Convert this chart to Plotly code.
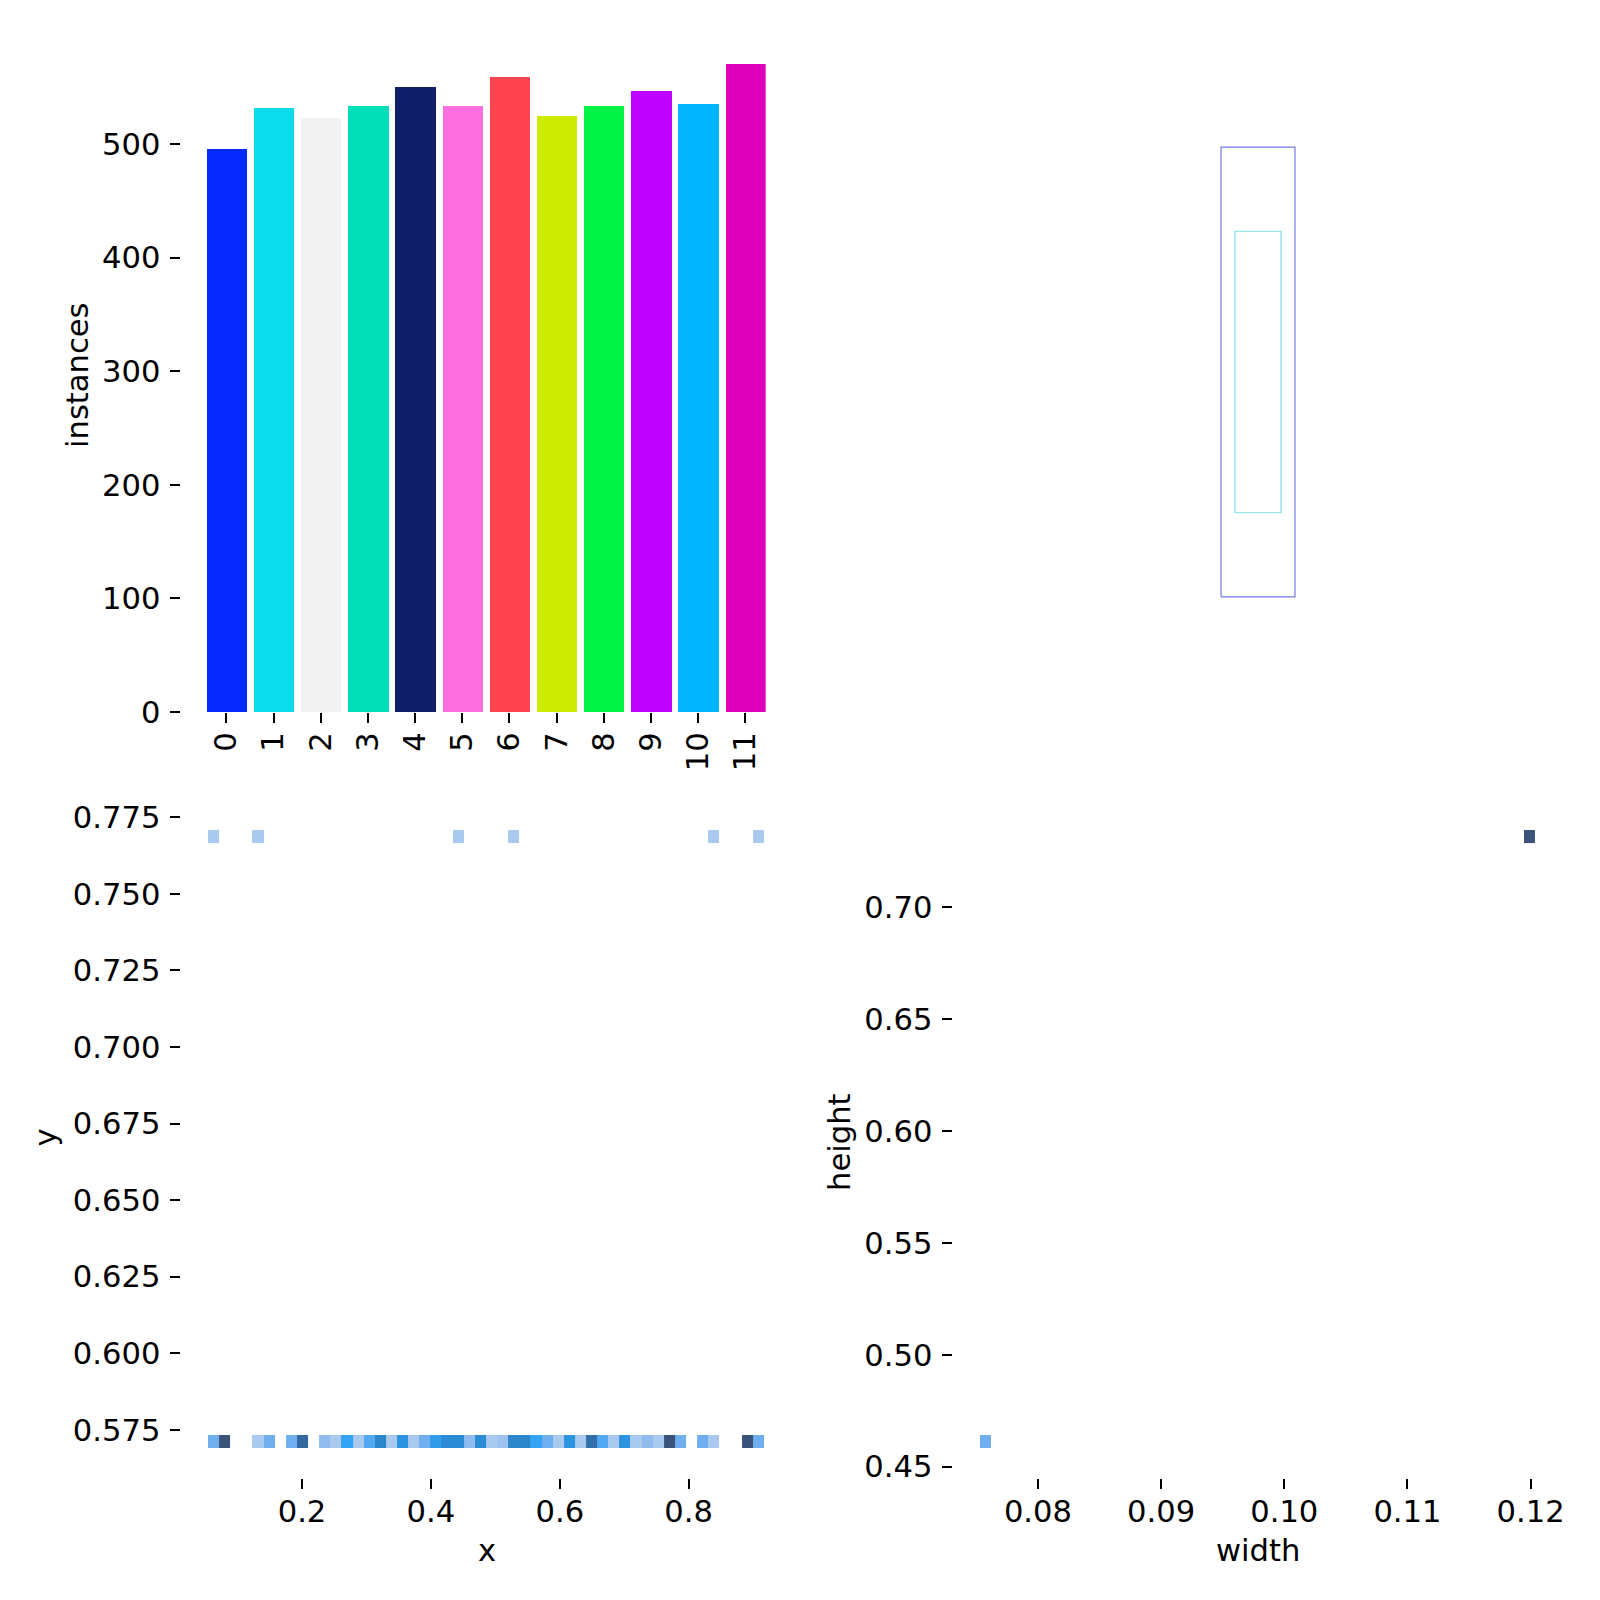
import plotly.graph_objects as go

# ---- data ----
classes = [0, 1, 2, 3, 4, 5, 6, 7, 8, 9, 10, 11]
instances = [496, 532, 523, 533, 550, 533, 559, 525, 533, 547, 535, 570]
bar_colors = ["#042AFF", "#0BDBEB", "#F3F3F3", "#00DFB7", "#111F68", "#FF6FDD",
              "#FF444F", "#CCED00", "#00F344", "#BD00FF", "#00B4FF", "#DD00BA"]

_ = None
xy_low = [4, 12, _, _, 2, 4, _, 4, 10, _,
          3, 2, 6, 2, 5, 8, 2, 7, 2, 4,
          6.5, 7.5, 7.5, 3, 7.5, 2, 2.5, 8, 8, 6,
          4, 2, 7, 2, 9.5, 5, 2, 7, 2, 3,
          2, 12, 4, _, 4, 2, _, _, 12, 4]
xy_high = [2, _, _, _, 2, _, _, _, _, _,
           _, _, _, _, _, _, _, _, _, _,
           _, _, 2, _, _, _, _, 2, _, _,
           _, _, _, _, _, _, _, _, _, _,
           _, _, _, _, _, 2, _, _, _, 2]
xy_y_edges = [0.5692, 0.57344, 0.76669, 0.77083]
xy_x0 = 0.06279   # centre of the first bin
xy_dx = 0.01725

wh_low = [4] + [_] * 49
wh_high = [_] * 49 + [12]
wh_y_edges = [0.45835, 0.46416, 0.72877, 0.73444]
wh_x0 = 0.07574   # centre of the first bin
wh_dx = 0.000902

box_width = [0.12, 0.0747]
box_height = [0.73, 0.457]
box_colors = ["#7478E0", "#7FDDE8"]

hist_levels = [0, 0.2, 0.3, 0.4, 0.6, 0.7, 0.8, 1.0, 1.2]
hist_colors = ["#C4D9F2", "#A9C9EE", "#8FBBEE", "#70AFEF", "#33A3F3",
               "#2B93E0", "#2B85C9", "#34699F", "#3B5378"]

y_ticks_bar = [0, 100, 200, 300, 400, 500]
x_ticks_xy = [0.2, 0.4, 0.6, 0.8]
y_ticks_xy = [0.575, 0.6, 0.625, 0.65, 0.675, 0.7, 0.725, 0.75, 0.775]
x_ticks_wh = [0.08, 0.09, 0.10, 0.11, 0.12]
y_ticks_wh = [0.45, 0.5, 0.55, 0.6, 0.65, 0.7]

# ---- layout helpers (pixel positions of the panels) ----
S = 1600.0
FONT = "DejaVu Sans"
FS = 30.6


def dx_(a, b):
    return [a / S, b / S]


def dy_(top, bottom):
    return [1 - bottom / S, 1 - top / S]


def axis(domain, rng, anchor, ticks=None, text=None, angle=None, standoff=3):
    d = dict(domain=domain, range=rng, anchor=anchor, showgrid=False, zeroline=False,
             showline=False, ticks="outside", ticklen=10, tickwidth=2.2, tickcolor="black",
             tickmode="array", tickvals=ticks, ticktext=text, automargin=False,
             tickfont=dict(family=FONT, size=FS, color="black"), ticklabelstandoff=standoff)
    if angle is not None:
        d["tickangle"] = angle
    return d


scale_max = hist_levels[-1]
colorscale = [[v / scale_max, c] for v, c in zip(hist_levels, hist_colors)]

fig = go.Figure()

fig.add_trace(go.Bar(x=classes, y=instances, marker=dict(color=bar_colors, line_width=0),
                     width=0.856, xaxis="x", yaxis="y", hoverinfo="skip", showlegend=False))

blank = [_] * 50
fig.add_trace(go.Heatmap(z=[xy_low, blank, xy_high], x0=xy_x0, dx=xy_dx, y=xy_y_edges,
                         colorscale=colorscale, zmin=0, zmax=scale_max * 10, showscale=False,
                         xaxis="x3", yaxis="y3", hoverinfo="skip"))
fig.add_trace(go.Heatmap(z=[wh_low, blank, wh_high], x0=wh_x0, dx=wh_dx, y=wh_y_edges,
                         colorscale=colorscale, zmin=0, zmax=scale_max * 10, showscale=False,
                         xaxis="x4", yaxis="y4", hoverinfo="skip"))

for w, h, c in zip(box_width, box_height, box_colors):
    fig.add_trace(go.Scatter(
        x=[0.5 - w / 2, 0.5 + w / 2, 0.5 + w / 2, 0.5 - w / 2, 0.5 - w / 2],
        y=[0.5 - h / 2, 0.5 - h / 2, 0.5 + h / 2, 0.5 + h / 2, 0.5 - h / 2],
        mode="lines", line=dict(color=c, width=1.2), xaxis="x2", yaxis="y2",
        hoverinfo="skip", showlegend=False))


def label(text, px, py, rot=0):
    return dict(text=text, x=px / S, y=1 - py / S, xref="paper", yref="paper", showarrow=False,
                xanchor="center", yanchor="middle", textangle=rot,
                font=dict(family=FONT, size=FS, color="black"))


fig.update_layout(
    width=1600, height=1600, autosize=False,
    margin=dict(l=0, r=0, t=0, b=0, pad=0),
    paper_bgcolor="white", plot_bgcolor="white", showlegend=False, bargap=0,
    xaxis=axis(dx_(180.5, 765.7), [-0.971, 11.432], "y", classes, [str(c) for c in classes], -90, -3),
    yaxis=axis(dy_(64, 712), [0, 570.4], "x", y_ticks_bar, [str(v) for v in y_ticks_bar]),
    xaxis2=dict(domain=dx_(950, 1566), range=[0, 1], anchor="y2", visible=False),
    yaxis2=dict(domain=dy_(64, 680), range=[0, 1], anchor="x2", visible=False),
    xaxis3=axis(dx_(180.5, 765), [0.01148, 0.91839], "y3", x_ticks_xy, [f"{v:.1f}" for v in x_ticks_xy], None, -3),
    yaxis3=axis(dy_(810, 1477.7), [0.55941, 0.77736], "x3", y_ticks_xy, [f"{v:.3f}" for v in y_ticks_xy]),
    xaxis4=axis(dx_(952.5, 1537), [0.07306, 0.12052], "y4", x_ticks_wh, [f"{v:.2f}" for v in x_ticks_wh], None, -3),
    yaxis4=axis(dy_(810, 1477.7), [0.44509, 0.74338], "x4", y_ticks_wh, [f"{v:.2f}" for v in y_ticks_wh]),
    annotations=[
        label("instances", 77, 375, -90),
        label("y", 44.5, 1138, -90),
        label("height", 839, 1142, -90),
        label("x", 487, 1550),
        label("width", 1258, 1550),
    ],
)

fig.write_html("out.html", config={"displayModeBar": False},
               post_script="document.body.style.margin='0';document.documentElement.style.overflow='hidden';")
